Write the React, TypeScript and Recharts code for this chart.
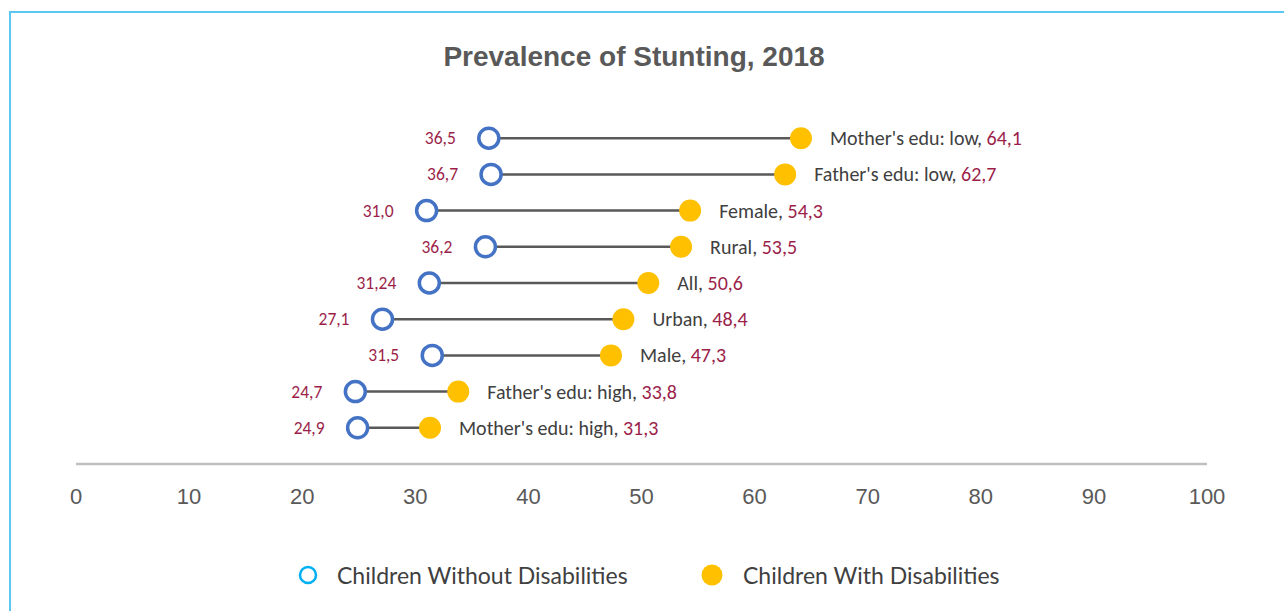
import React from 'react';
import {
  ScatterChart,
  Scatter,
  XAxis,
  YAxis,
  LabelList,
} from 'recharts';

// categories from top to bottom
const categories = [
  "Mother's edu: low",
  "Father's edu: low",
  'Female',
  'Rural',
  'All',
  'Urban',
  'Male',
  "Father's edu: high",
  "Mother's edu: high",
];
const withoutDisabilities = [36.5, 36.7, 31.0, 36.2, 31.24, 27.1, 31.5, 24.7, 24.9];
const withDisabilities = [64.1, 62.7, 54.3, 53.5, 50.6, 48.4, 47.3, 33.8, 31.3];
const xTicks = [0, 10, 20, 30, 40, 50, 60, 70, 80, 90, 100];
const seriesNames = ['Children Without Disabilities', 'Children With Disabilities'];

const BLUE = '#4472c4';
const YELLOW = '#ffc000';
const CRIMSON = '#9c1f4a';
const LABEL_FONT = 'Carlito, Lato, sans-serif';

// 31 -> "31,0", 31.24 -> "31,24"
const fmt = (v: number) => (Number.isInteger(v) ? v.toFixed(1) : String(v)).replace('.', ',');

const rowY = (i: number) => categories.length - 1 - i;

const withoutData = categories.map((c, i) => ({ x: withoutDisabilities[i], y: rowY(i), cat: c }));
const withData = categories.map((c, i) => ({ x: withDisabilities[i], y: rowY(i), cat: c }));
const segments = categories.map((c, i) => [
  { x: withoutDisabilities[i], y: rowY(i) },
  { x: withDisabilities[i], y: rowY(i) },
]);

const HollowDot = ({ cx, cy }: any) => (
  <circle cx={cx} cy={cy} r={10} fill="#fff" stroke={BLUE} strokeWidth={3.5} />
);
const FilledDot = ({ cx, cy }: any) => <circle cx={cx} cy={cy} r={11} fill={YELLOW} />;

const LeftLabel = (props: any) => {
  const { x, y, width, height, value } = props;
  const cx = x + width / 2;
  const cy = y + height / 2;
  return (
    <text x={cx - 33} y={cy} textAnchor="end" dominantBaseline="central" fill={CRIMSON} fontSize={17.5} fontFamily={LABEL_FONT}>
      {fmt(value)}
    </text>
  );
};

const RightLabel = (props: any) => {
  const { x, y, width, height, value, index } = props;
  const cx = x + width / 2;
  const cy = y + height / 2;
  return (
    <text x={cx + 29} y={cy} textAnchor="start" dominantBaseline="central" fontSize={20} fontFamily={LABEL_FONT}>
      <tspan fill="#404040">{categories[index]}, </tspan>
      <tspan fill={CRIMSON}>{fmt(value)}</tspan>
    </text>
  );
};

const legendText: React.CSSProperties = {
  position: 'absolute',
  top: 561,
  fontFamily: 'Lato, sans-serif',
  fontSize: 23,
  color: '#404040',
  lineHeight: '28px',
  whiteSpace: 'nowrap',
};

export default function App() {
  return (
    <div style={{ position: 'absolute', left: 0, top: 0, width: 1284, height: 611, overflow: 'hidden', background: '#fff' }}>
      <div
        style={{
          position: 'absolute',
          left: 9,
          top: 11,
          width: 1300,
          height: 640,
          borderTop: '2px solid #5cc8f0',
          borderLeft: '2px solid #5cc8f0',
        }}
      />
      <div
        style={{
          position: 'absolute',
          left: 0,
          top: 40,
          width: 1268,
          textAlign: 'center',
          fontFamily: 'Liberation Sans, Arial, sans-serif',
          fontWeight: 'bold',
          fontSize: 28,
          lineHeight: '34px',
          color: '#595959',
        }}
      >
        Prevalence of Stunting, 2018
      </div>
      <div style={{ position: 'absolute', left: 0, top: 0 }}>
        <ScatterChart width={1284} height={611} margin={{ top: 102, right: 77, bottom: 87, left: 76 }}>
          <XAxis
            type="number"
            dataKey="x"
            domain={[0, 100]}
            ticks={xTicks}
            interval={0}
            axisLine={{ stroke: '#bfbfbf', strokeWidth: 2.5 }}
            tickLine={false}
            tickSize={0}
            tickMargin={24}
            height={60}
            tick={{ fill: '#595959', fontSize: 22, fontFamily: 'Liberation Sans Narrow, Liberation Sans, sans-serif' }}
          />
          <YAxis type="number" dataKey="y" domain={[-1, 9]} hide width={0} />
          {segments.map((seg, i) => (
            <Scatter
              key={`seg-${i}`}
              data={seg}
              line={{ stroke: '#595959', strokeWidth: 2.5 }}
              shape={() => <g />}
              isAnimationActive={false}
              legendType="none"
            />
          ))}
          <Scatter name={seriesNames[0]} data={withoutData} shape={HollowDot} isAnimationActive={false}>
            <LabelList dataKey="x" content={LeftLabel} />
          </Scatter>
          <Scatter name={seriesNames[1]} data={withData} shape={FilledDot} isAnimationActive={false}>
            <LabelList dataKey="x" content={RightLabel} />
          </Scatter>
        </ScatterChart>
      </div>
      {/* legend */}
      <svg width={1284} height={611} style={{ position: 'absolute', left: 0, top: 0, pointerEvents: 'none' }}>
        <circle cx={308} cy={575} r={8} fill="#fff" stroke="#00b0f0" strokeWidth={2.5} />
        <circle cx={712} cy={575} r={10.5} fill={YELLOW} />
      </svg>
      <div style={{ ...legendText, left: 337 }}>{seriesNames[0]}</div>
      <div style={{ ...legendText, left: 743 }}>{seriesNames[1]}</div>
    </div>
  );
}
